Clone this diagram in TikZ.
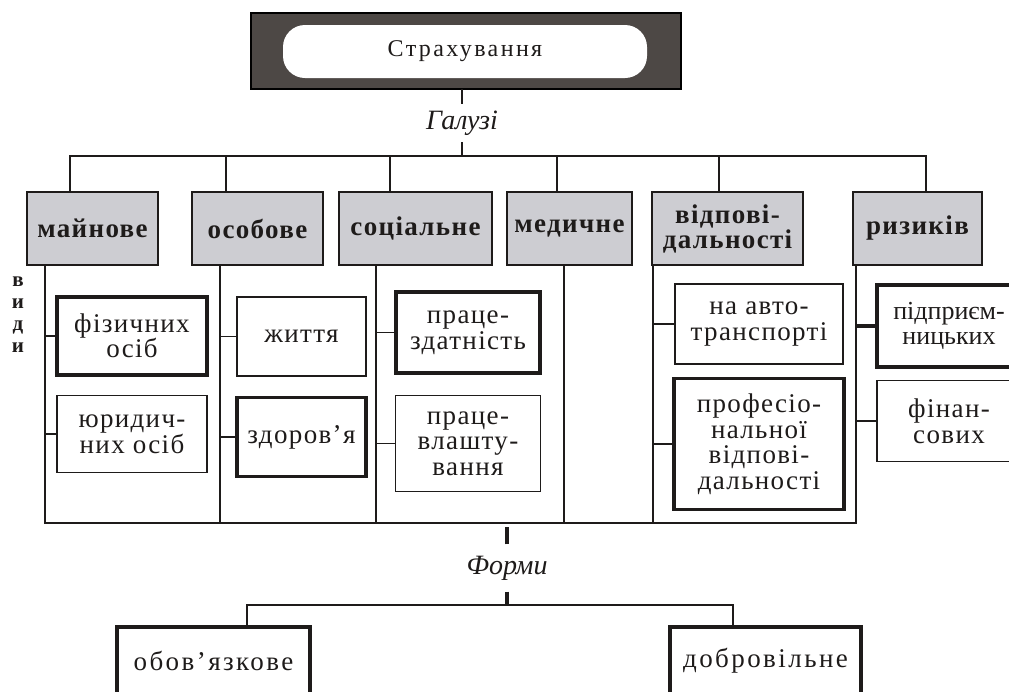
\documentclass[tikz,border=0pt]{standalone}
\usepackage{fontspec}
\setmainfont{Liberation Serif}
\newfontfamily\wideserif[LetterSpace=5]{Liberation Serif}
\newfontfamily\widerserif[LetterSpace=9]{Liberation Serif}
\newfontfamily\titleserif[LetterSpace=10]{Liberation Serif}
\usetikzlibrary{positioning}
\definecolor{inkline}{HTML}{1E1B1A}
\definecolor{hdrgray}{HTML}{CDCDD2}
\definecolor{titlegray}{HTML}{4D4845}

\begin{document}
\begin{tikzpicture}[x=1pt, y=-1pt,
    every node/.style={inner sep=0pt, align=center, text=inkline},
    conn/.style={draw=inkline, line width=1.6pt, line cap=rect},
    fat/.style={draw=inkline, line width=3.5pt},
    hdr/.style={rectangle, draw=inkline, line width=2.2pt, fill=hdrgray,
                minimum height=73pt, font=\wideserif\bfseries\fontsize{27}{25}\selectfont},
    sub/.style={rectangle, draw=inkline, line width=1.6pt, fill=white,
                font=\wideserif\fontsize{27}{25.5}\selectfont},
    subfat/.style={sub, line width=3.5pt},
    formbox/.style={subfat, font=\widerserif\fontsize{27}{24}\selectfont},
    lbl/.style={font=\itshape\fontsize{28}{28}\selectfont},
  ]
  \useasboundingbox (0,0) rectangle (1009,691);

  % title
  \node[rectangle, draw=black, line width=1.5pt, fill=titlegray,
        minimum width=430pt, minimum height=76pt] (title) at (466,51) {};
  \node[rectangle, rounded corners=22pt, fill=white, minimum width=364pt, minimum height=53pt,
        font=\titleserif\fontsize{24}{24}\selectfont] (titletext) at (465,51.5) {Страхування};
  \node[lbl, minimum height=40pt] (galuzi) at (462,123) {Галузі};

  % branches
  \node[hdr, minimum width=131pt] (mainove)  at (92.5,228.5)  {майнове};
  \node[hdr, minimum width=131pt] (osobove)  at (257.5,228.5) {особове};
  \node[hdr, minimum width=153pt] (social)   at (415.5,228.5) {соціальне};
  \node[hdr, minimum width=125pt] (medychne) at (569.5,228.5) {медичне};
  \node[hdr, minimum width=151pt] (vidpov)   at (727.5,228.5) {відпові-\\дальності};
  \node[hdr, minimum width=129pt] (ryzykiv)  at (917.5,228.5) {ризиків};

  \node[font=\bfseries\fontsize{21}{22}\selectfont] (vydy) at (18,315) {в\\и\\д\\и};

  % kinds
  \node[subfat, minimum width=150pt, minimum height=78pt] (fiz) at (132,336) {фізичних\\осіб};
  \node[sub, minimum width=150pt, minimum height=77pt, below=18pt of fiz] (yur) {юридич-\\них осіб};
  \node[sub, minimum width=129pt, minimum height=79pt] (zhyttia) at (301.5,336.5) {життя};
  \node[subfat, minimum width=129pt, minimum height=79pt, below=19pt of zhyttia] (zdorovia) {здоров’я};
  \node[subfat, minimum width=144pt, minimum height=81pt] (pratsezd) at (468,332.5) {праце-\\здатність};
  \node[sub, minimum width=145pt, minimum height=96pt, below=20pt of pratsezd] (pratsevl) {праце-\\влашту-\\вання};
  \node[sub, minimum width=168pt, minimum height=80pt] (avto) at (759,324) {на авто-\\транспорті};
  \node[subfat, minimum width=170pt, minimum height=131pt, below=12pt of avto] (prof) {професіо-\\нальної\\відпові-\\дальності};
  \node[subfat, minimum width=144pt, minimum height=82pt,
        font=\fontsize{26}{25.5}\selectfont] (pidpr) at (949,326) {підприєм-\\ницьких};
  \node[sub, minimum width=144pt, minimum height=81pt, below=11pt of pidpr] (finan) {фінан-\\сових};

  % forms
  \node[lbl, minimum height=47pt] (formy) at (507,568) {Форми};
  \node[formbox, minimum width=193pt, minimum height=68pt] (obov) at (213.5,661) {обов’язкове};
  \node[formbox, minimum width=191pt, minimum height=68pt] (dobr) at (765.5,661) {добровільне};

  % trunk
  \coordinate (tL) at (70,156);
  \coordinate (tR) at (926,156);
  \draw[conn] (title.south -| galuzi.north) -- (galuzi.north);
  \draw[conn] (galuzi.south) -- (galuzi.south |- tL);
  \draw[conn] (tL) -- (tR);
  \foreach \n/\x in {mainove/70, osobove/226, social/390, medychne/557, vidpov/719, ryzykiv/926} {
    \coordinate (d) at (\x,156);
    \draw[conn] (d) -- (d |- \n.north);
  }

  % column lines
  \foreach \n/\x in {mainove/45, osobove/220, social/376, medychne/564, vidpov/653, ryzykiv/856} {
    \coordinate (col-\n) at (\x,523);
    \draw[conn] (col-\n) -- (col-\n |- \n.south);
  }
  \draw[conn] (col-mainove) -- (col-ryzykiv);

  \draw[conn] (fiz.west) -- (fiz.west -| col-mainove);
  \draw[conn] (yur.west) -- (yur.west -| col-mainove);
  \draw[conn] (zhyttia.west) -- (zhyttia.west -| col-osobove);
  \draw[conn] (zdorovia.west) -- (zdorovia.west -| col-osobove);
  \draw[conn] (pratsezd.west) -- (pratsezd.west -| col-social);
  \draw[conn] (pratsevl.west) -- (pratsevl.west -| col-social);
  \draw[conn] (avto.west) -- (avto.west -| col-vidpov);
  \draw[conn] (prof.west) -- (prof.west -| col-vidpov);
  \draw[fat] (pidpr.west) -- (pidpr.west -| col-ryzykiv);
  \draw[conn] (finan.west) -- (finan.west -| col-ryzykiv);

  % forms fork
  \coordinate (fork) at (507,605);
  \draw[fat, shorten >=4pt] (formy.north) -- (formy.north |- col-mainove);
  \draw[fat] (formy.south) -- (fork);
  \draw[conn] ([xshift=33.5pt]obov.north) |- (fork) -| ([xshift=-32.5pt]dobr.north);
\end{tikzpicture}
\end{document}
